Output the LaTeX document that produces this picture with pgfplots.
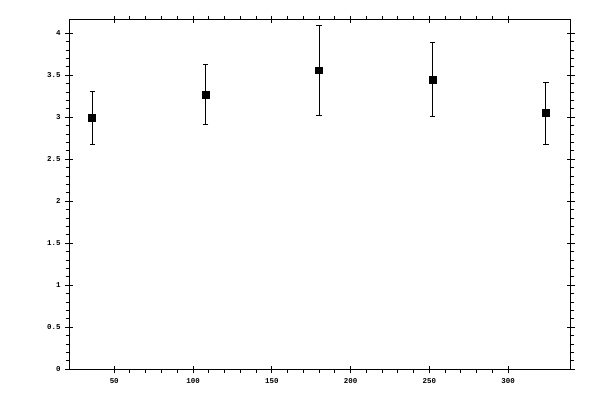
\documentclass[border=0pt]{standalone}
\usepackage{fontspec}
\setmonofont{Liberation Mono}
\usepackage{pgfplots}
\pgfplotsset{compat=1.18}

\begin{document}
\begin{tikzpicture}[x=1pt,y=1pt]
	\begin{axis}[
		scale only axis,
		width=376pt, height=262.2pt,
		xmin=21.5, xmax=339.7,
		ymin=0, ymax=4.162,
		xtick={50,100,...,300},
		ytick={0,0.5,...,4},
		minor x tick num=4,
		minor y tick num=4,
		tick align=outside,
		major tick length=3pt,
		minor tick length=2.6pt,
		xtick pos=both, ytick pos=both,
		xticklabel pos=lower, yticklabel pos=left,
		axis line style={line width=0.75pt},
		every tick/.style={black, line width=0.75pt},
		extra x ticks={50,100,...,300},
		extra y ticks={0.5,1,...,4},
		extra tick style={tick align=inside, major tick length=2.4pt, xticklabel={}, yticklabel={}},
		/pgf/number format/assume math mode=true,
		tick label style={font=\ttfamily\bfseries\fontsize{5.6}{6}\selectfont},
		yticklabel style={/pgf/number format/fixed},
		]
		\addplot[
			only marks,
			mark=square*,
			mark size=2.6pt,
			black,
			error bars/.cd,
			y dir=both, y explicit,
			error bar style={line width=0.75pt, black},
			error mark options={black, rotate=90, mark size=2pt, line width=0.75pt},
		] coordinates {
			(36,2.99) +- (0,0.315)
			(108,3.27) +- (0,0.36)
			(180,3.56) +- (0,0.535)
			(252,3.45) +- (0,0.44)
			(324,3.05) +- (0,0.37)
		};
	\end{axis}
	\pgfresetboundingbox
	\path (current axis.south west) ++(-52pt,-23pt) rectangle ([shift={(22pt,14.8pt)}]current axis.north east);
\end{tikzpicture}
\end{document}
